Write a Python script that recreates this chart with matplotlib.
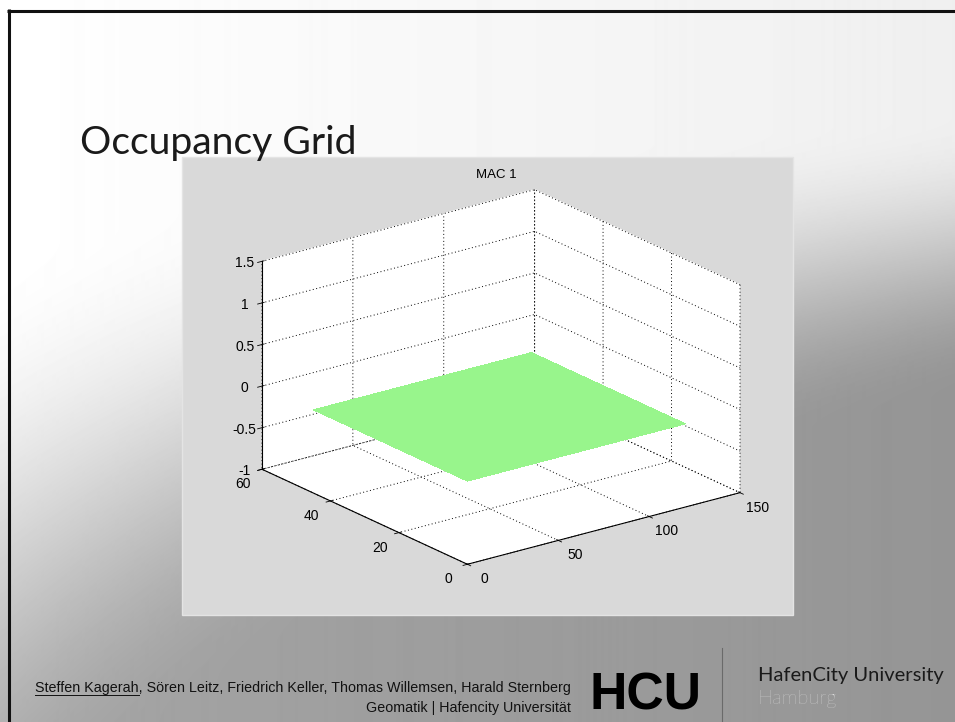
import numpy as np
import matplotlib
matplotlib.use("Agg")
import matplotlib.pyplot as plt
from matplotlib import font_manager
from matplotlib.patches import Rectangle
from matplotlib.transforms import ScaledTranslation

# ---------------- data ----------------
slide_title = "Occupancy Grid"
chart_title = "MAC 1"
grid_x = [0, 120]            # extent of the occupancy grid along x
grid_y = [0, 45]             # extent of the occupancy grid along y
occupancy = [[0, 0],
             [0, 0]]         # all cells at level 0
x_limits = [0, 150]
y_limits = [0, 60]
z_limits = [-1, 1.5]
x_ticks = [0, 50, 100, 150]
y_ticks = [0, 20, 40, 60]
z_ticks = [-1, -0.5, 0, 0.5, 1, 1.5]
x_tick_labels = ["0", "50", "100", "150"]
y_tick_labels = ["0", "20", "40", "60"]
z_tick_labels = ["-1", "-0.5", "0", "0.5", "1", "1.5"]
authors_first = "Steffen Kagerah"
authors_rest = ", Sören Leitz, Friedrich Keller, Thomas Willemsen, Harald Sternberg"
affiliation = "Geomatik | Hafencity Universität"
logo_text = "HCU"
uni_name = "HafenCity University"
uni_city = "Hamburg"

# ---------------- helpers ----------------
def pick(cands):
    for c in cands:
        try:
            font_manager.findfont(font_manager.FontProperties(family=c),
                                  fallback_to_default=False)
            return c
        except Exception:
            pass
    return "DejaVu Sans"

ARIAL = pick(["Liberation Sans", "Arial", "DejaVu Sans"])
NARROW = pick(["Liberation Sans Narrow", "Liberation Sans", "DejaVu Sans"])
CAL = pick(["Lato", "Open Sans", "Noto Sans", "DejaVu Sans"])

W, H = 955, 722
fig = plt.figure(figsize=(W / 100, H / 100), dpi=100)

# background slide gradient
bg = fig.add_axes([0, 0, 1, 1])
bg.set_axis_off()
yy, xx = np.mgrid[0:H, 0:W]
xf = xx / W
yf = yy / H
w = yf * (0.5 + 0.6 * xf)
t = np.clip((w - 0.18) / 0.42, 0, 1)
ss = t * t * (3 - 2 * t)
D = 16 * xf + 90 * ss
grad = (255 - D) / 255.0
bg.imshow(grad, extent=[0, W, H, 0], aspect="auto", cmap="gray",
          vmin=0, vmax=1, interpolation="bilinear")
bg.set_xlim(0, W)
bg.set_ylim(H, 0)

# slide frame lines
bg.plot([7, W], [10.5, 10.5], color="#111111", lw=2.2, solid_capstyle="butt")
bg.plot([8.5, 8.5], [9, H], color="#111111", lw=2.2, solid_capstyle="butt")

# figure panel
bg.add_patch(Rectangle((182, 157), 611, 458, facecolor="#d9d9d9",
                       edgecolor="#e4e4e4", lw=1.0))

# slide title
t_title = bg.text(80, 154, slide_title, fontsize=27, family=CAL,
                  fontweight="normal", color="#1a1a1a", va="baseline", ha="left")

# footer
t_auth = bg.text(571, 688, authors_first + authors_rest, fontsize=10,
                 family=NARROW, color="#111111", ha="right", va="center")
t_aff = bg.text(571, 708, affiliation, fontsize=10, family=NARROW,
                color="#111111", ha="right", va="center")
t_logo = bg.text(589, 709, logo_text, fontsize=43, family=NARROW,
                 fontweight="bold", color="#000000", ha="left", va="baseline")
bg.plot([722, 722], [648, H], color="#6a6a6a", lw=0.8)
t_uni = bg.text(758, 676, uni_name, fontsize=14.5, family=CAL,
                color="#1a1a1a", ha="left", va="center")
t_city = bg.text(758, 699, uni_city, fontsize=14.5, family=CAL,
                 fontweight="light", color="#e6e6e6", ha="left", va="center")

# ---------------- 3D chart ----------------
ax = fig.add_axes([0.12, 0.08, 0.76, 0.82], projection="3d")
ax.set_proj_type("ortho")
ax.view_init(elev=20.4, azim=-127.0)
ax.set_facecolor((0, 0, 0, 0))
ax.patch.set_alpha(0)

def setlim(fn, lims):
    try:
        fn(lims, view_margin=0)
    except TypeError:
        fn(lims)

setlim(ax.set_xlim, x_limits)
setlim(ax.set_ylim, y_limits)
setlim(ax.set_zlim, z_limits)
ax.set_xticks(x_ticks)
ax.set_yticks(y_ticks)
ax.set_zticks(z_ticks)
ax.set_xticklabels(x_tick_labels, fontsize=10, family=ARIAL)
ax.set_yticklabels(y_tick_labels, fontsize=10, family=ARIAL)
ax.set_zticklabels(z_tick_labels, fontsize=10, family=ARIAL)

for axis in (ax.xaxis, ax.yaxis, ax.zaxis):
    axis.set_pane_color((1, 1, 1, 1))
    axis.pane.set_edgecolor((1, 1, 1, 1))
    axis.line.set_color("black")
    axis.line.set_linewidth(0.8)
    axis._axinfo["grid"].update(color="black", linewidth=0.7,
                                linestyle=(0, (1, 2.6)))
    axis._axinfo["tick"]["color"] = "black"
    axis._axinfo["tick"]["linewidth"] = {True: 0.6, False: 0.6}
ax.tick_params(axis="both", colors="black", pad=0)
ax.grid(True)

# nudge tick labels (pixels: right, up) to match the MATLAB placement
def nudge(axis, dx, dy):
    off = ScaledTranslation(dx / 100.0, dy / 100.0, fig.dpi_scale_trans)
    orig = axis.get_major_ticks
    def patched(numticks=None, _orig=orig, _off=off):
        ticks = _orig(numticks)
        for tk in ticks:
            tk.label1.set_transform(ax.transData + _off)
        return ticks
    axis.get_major_ticks = patched

nudge(ax.xaxis, 10, 3)
nudge(ax.yaxis, -9, 2)
nudge(ax.zaxis, 0, 4)

X, Y = np.meshgrid(grid_x, grid_y)
Z = np.array(occupancy, dtype=float)
ax.plot_surface(X, Y, Z, color="#98f58c", shade=False, linewidth=0,
                antialiased=False)

box_aspect = (1, 1, 0.65)
ax.set_box_aspect(box_aspect)

fig.text(496 / W, 1 - 175 / H, chart_title, fontsize=9.5, family=ARIAL,
         ha="center", va="center", color="black")

def cube_px():
    xl, yl, zl = ax.get_xlim3d(), ax.get_ylim3d(), ax.get_zlim3d()
    pts = np.array([(a, b, c) for a in xl for b in yl for c in zl], float)
    M = ax.get_proj()
    P = np.vstack([pts.T, np.ones(len(pts))])
    V = M @ P
    p2 = np.column_stack([V[0] / V[3], V[1] / V[3]])
    return ax.transData.transform(p2)

target = (262.0, 740.0, 191.0, 563.0)  # left, right, top, bottom (px)
zoom = 1.0
for _ in range(3):
    fig.canvas.draw()
    d = cube_px()
    wdt = d[:, 0].max() - d[:, 0].min()
    zoom *= (target[1] - target[0]) / wdt
    ax.set_box_aspect(box_aspect, zoom=zoom)
    fig.canvas.draw()
    d = cube_px()
    cx = (d[:, 0].max() + d[:, 0].min()) / 2
    cy = H - (d[:, 1].max() + d[:, 1].min()) / 2
    dx = (target[0] + target[1]) / 2 - cx
    dy = (target[2] + target[3]) / 2 - cy
    pos = ax.get_position(original=True)
    ax.set_position([pos.x0 + dx / W, pos.y0 - dy / H, pos.width, pos.height])

fig.canvas.draw()

# fit text widths to the slide
r = fig.canvas.get_renderer()
def fit(txt, width):
    bb = txt.get_window_extent(r)
    txt.set_fontsize(txt.get_fontsize() * width / bb.width)

fit(t_title, 277)
fit(t_auth, 531)
t_aff.set_fontsize(t_auth.get_fontsize())
fit(t_logo, 112)
fig.canvas.draw()

# underline first author
tmp = bg.text(0, 0, authors_first, fontsize=t_auth.get_fontsize(), family=NARROW)
fig.canvas.draw()
uw = tmp.get_window_extent(r).width
tmp.remove()
bb = t_auth.get_window_extent(r)
bg.plot([bb.x0, bb.x0 + uw], [695, 695], color="#111111", lw=0.7)

fig.savefig("out.png", dpi=100)
